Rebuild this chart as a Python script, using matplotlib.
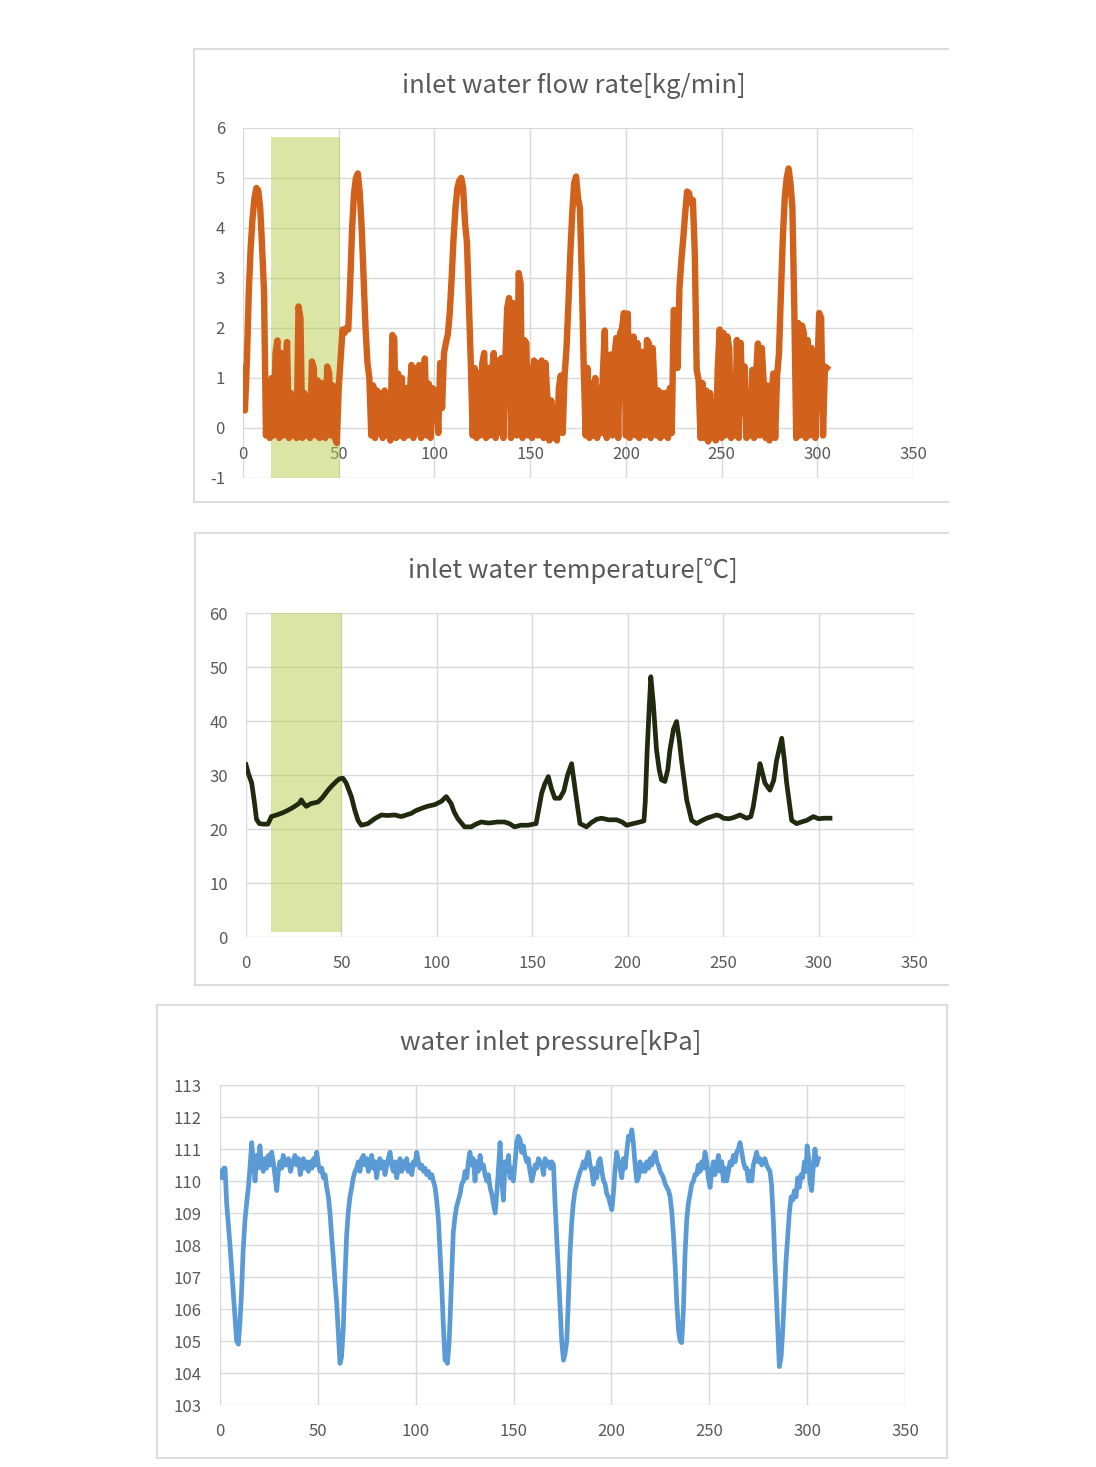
import matplotlib
matplotlib.use("Agg")
import matplotlib.pyplot as plt
from matplotlib.lines import Line2D

plt.rcParams['font.family'] = ['Noto Sans CJK KR', 'DejaVu Sans']
plt.rcParams['axes.unicode_minus'] = False

# ------------------------------------------------------------
# data
# ------------------------------------------------------------

# inlet water flow rate [kg/min], one value per unit of x (0..305)
flow_rate = [
    1.2, 0.35, 1.3, 2.7, 3.6, 4.2, 4.6, 4.8, 4.75, 4.4,
    3.6, 2.7, -0.15, 0.8, -0.2, 1.0, -0.15, 1.5, 1.75, -0.2,
    1.5, -0.15, 1.0, 1.72, -0.2, 0.7, -0.15, 0.6, -0.2, 2.43,
    2.2, -0.2, 0.7, -0.15, 0.6, -0.2, 1.33, 1.2, -0.15, 0.95,
    -0.2, 0.9, 0.3, -0.2, 1.23, 1.1, -0.15, 0.85, -0.2, -0.3,
    0.8, 1.4, 1.97, 1.9, 2.0, 1.97, 2.9, 4.0, 4.7, 5.0,
    5.09, 4.7, 4.0, 3.0, 2.0, 1.3, 1.0, -0.15, 0.85, -0.2,
    0.75, -0.1, 0.7, -0.2, 0.75, -0.15, 0.5, -0.25, 1.86, 1.8,
    -0.2, 1.09, -0.15, 1.0, -0.2, 0.8, -0.15, 0.6, 1.26, -0.2,
    1.2, -0.1, 1.26, -0.2, 0.9, 1.39, -0.15, 0.89, -0.2, 0.8,
    0.2, 0.75, -0.1, 1.3, 0.4, 1.5, 1.7, 1.87, 2.3, 3.0,
    3.8, 4.4, 4.8, 4.95, 5.0, 4.8, 4.1, 3.7, 2.5, 1.3,
    -0.15, 1.2, -0.2, 1.1, -0.15, 1.3, 1.5, -0.2, 1.2, -0.15,
    1.1, 1.5, -0.2, 1.35, -0.1, 1.4, -0.2, 1.3, 2.4, 2.6,
    -0.2, 2.5, 1.2, -0.15, 3.1, 2.9, -0.2, 1.76, 1.7, -0.15,
    1.2, -0.2, 1.35, 1.3, -0.15, 1.0, 1.35, -0.2, 1.3, 0.6,
    -0.25, 0.55, -0.2, 0.4, -0.25, 0.8, 1.05, -0.1, 1.05, 1.6,
    2.5, 3.5, 4.3, 4.9, 5.03, 4.6, 4.4, 3.0, 1.2, -0.15,
    1.2, -0.2, 0.9, -0.15, 1.0, -0.2, 0.8, -0.1, 1.1, 1.95,
    -0.2, 1.2, 1.47, -0.15, 1.4, 1.8, -0.2, 1.9, 2.0, 2.3,
    -0.15, 2.29, -0.2, 0.8, 1.83, -0.15, 1.7, -0.2, 1.53, 1.4,
    -0.15, 1.76, 1.7, -0.2, 1.6, 0.8, -0.15, 0.75, -0.2, 0.7,
    -0.15, 0.7, -0.2, 0.8, -0.1, 2.36, 2.3, 1.2, 2.8, 3.36,
    3.8, 4.3, 4.73, 4.7, 4.5, 4.56, 3.5, 1.16, 0.96, -0.2,
    0.9, -0.2, 0.75, -0.27, 0.7, -0.2, 0.5, -0.25, 1.2, 1.97,
    -0.2, 1.9, -0.15, 1.83, 1.6, -0.2, 0.8, -0.15, 1.76, -0.2,
    1.7, 0.3, 1.23, -0.2, 0.6, -0.15, 1.16, -0.2, 1.1, 1.69,
    -0.15, 1.6, 0.89, -0.2, 0.85, -0.25, 0.6, 1.09, -0.2, 1.05,
    1.5, 2.69, 3.8, 4.6, 5.0, 5.19, 4.9, 4.4, 2.36, -0.2,
    2.1, -0.15, 2.05, 1.9, -0.2, 1.76, -0.15, 1.6, 1.23, -0.2,
    1.1, 2.3, 2.2, -0.15, 1.23, 1.2,
]
flow_x = list(range(len(flow_rate)))

# inlet water temperature [C]
temp_x = [
    0, 1.5, 3, 4.5, 5.5, 7, 9, 11.5, 13.3, 16, 18.5, 21, 23.7, 26, 28, 29, 30,
    31.6, 34, 37.7, 40, 43, 45, 47.3, 49, 50.8, 52.5, 55.2, 57, 58.7, 60.4,
    63.9, 67.4, 70.9, 74, 77.9, 81.4, 84, 86.6, 89, 91.8, 95, 98.8, 102.3,
    104.9, 107.5, 109, 111, 114.5, 118, 120.5, 123.2, 127, 131.9, 135.4, 138,
    140.7, 144, 147.7, 152, 154.9, 156.5, 158.4, 160, 161.8, 164.4, 166.5,
    168.5, 170.6, 172, 173.2, 175, 178.4, 181, 183.7, 186.3, 190, 194.2, 197,
    199.4, 203, 206.4, 208.5, 209.2, 210.2, 211.2, 212.1, 213.4, 215.1, 216.5,
    217.7, 219.5, 221, 222.1, 224, 225.6, 227, 228.2, 230.9, 233.5, 236.1,
    238.5, 241.4, 244, 246.6, 248.5, 250.1, 253, 255.3, 258.8, 262.3, 264.5,
    265.8, 267.5, 269.3, 270.5, 271.9, 274.5, 276.5, 278, 280.7, 282, 283.3,
    285.9, 288.5, 291, 293.8, 297.3, 300, 303, 306,
]
temperature = [
    31.9, 30.0, 28.5, 24.7, 21.8, 21.0, 20.9, 20.9, 22.3, 22.6, 22.9, 23.3,
    23.8, 24.3, 24.8, 25.4, 24.8, 24.2, 24.7, 25.0, 25.8, 27.2, 28.0, 28.8,
    29.3, 29.4, 28.5, 26.0, 23.5, 21.6, 20.7, 21.0, 21.9, 22.6, 22.5, 22.6,
    22.3, 22.6, 22.9, 23.4, 23.8, 24.2, 24.5, 25.1, 26.0, 24.7, 23.2, 21.9,
    20.4, 20.4, 20.9, 21.3, 21.1, 21.3, 21.3, 21.0, 20.4, 20.7, 20.7, 21.0,
    26.6, 28.3, 29.7, 27.5, 25.7, 25.7, 27.0, 30.0, 32.1, 28.5, 25.4, 21.0,
    20.4, 21.2, 21.8, 22.0, 21.7, 21.7, 21.3, 20.7, 21.0, 21.3, 21.5, 25.0,
    34.6, 42.0, 48.2, 43.3, 34.6, 31.0, 29.1, 28.8, 31.0, 34.6, 38.5, 39.9,
    36.5, 32.7, 25.4, 21.6, 21.0, 21.5, 22.0, 22.3, 22.6, 22.4, 22.0, 21.9,
    22.1, 22.6, 22.0, 22.3, 24.2, 28.0, 32.1, 30.5, 28.5, 27.2, 29.0, 32.7,
    36.8, 33.0, 28.5, 21.6, 21.0, 21.3, 21.6, 22.3, 21.9, 22.0, 22.0,
]

# water inlet pressure [kPa]
pres_x = [
    0, 1, 2, 2.6, 3.4, 4.2, 5.1, 6, 6.8, 7.6, 8.5, 9.4, 10.2, 11, 11.8, 12.8,
    13.6, 14.5, 15.3, 16.2, 17, 17.9, 18.7, 19.5, 20.4, 21.2, 22.1, 23, 23.8,
    24.7, 25.5, 26.4, 27.2, 28, 29, 29.8, 30.6, 31.5, 32.3, 33.1, 34, 35, 36,
    37.2, 38.3, 39.2, 40.1, 41, 41.7, 42.6, 43.5, 44.3, 45.2, 46, 47, 47.8,
    48.6, 49.4, 50.3, 51.2, 52, 52.8, 53.7, 54.5, 55.4, 56.2, 57, 57.9, 58.7,
    59.6, 60.4, 61.3, 62.1, 63, 63.8, 64.7, 65.5, 66.4, 67.3, 68.1, 69, 69.8,
    70.7, 71.5, 72.4, 73.3, 74.1, 75, 75.8, 76.6, 77.5, 78.3, 79.2, 80, 80.9,
    81.7, 82.6, 83.5, 84.3, 85.2, 86, 86.9, 87.7, 88.6, 89.4, 90.3, 91.1, 92,
    92.8, 93.7, 94.5, 95.4, 96.2, 97.1, 98, 98.8, 99.7, 100.5, 101.4, 102.2,
    103.1, 104, 104.8, 105.6, 106.5, 107.3, 108.2, 109, 109.9, 110.7, 111.6,
    112.4, 113.3, 114.1, 115, 115.8, 116.2, 117, 117.5, 118.4, 119.2, 120.1,
    120.9, 121.8, 122.7, 123.5, 124.4, 125.2, 126.1, 126.9, 127.7, 128.6,
    129.4, 130.3, 131.1, 132, 132.9, 133.7, 134.6, 135.4, 136.3, 137.1, 138,
    138.8, 139.7, 140.6, 141.4, 142.2, 143.1, 144, 144.8, 145.7, 146.5, 147.4,
    148.2, 149, 149.9, 150.8, 151.6, 152.4, 153.3, 154.1, 155, 155.8, 156.7,
    157.5, 158.4, 159.3, 160.1, 161, 161.8, 162.7, 163.6, 164.4, 165.3, 166.1,
    167, 167.8, 168.7, 169.5, 170.4, 171.2, 172, 172.9, 173.8, 174.6, 175.5,
    176.3, 177.2, 178, 178.8, 179.7, 180.5, 181.4, 182.2, 183.1, 184, 184.8,
    185.7, 186.5, 187.4, 188.2, 189.1, 190, 190.8, 191.7, 192.5, 193.4, 194.2,
    195.1, 196, 196.8, 197.6, 198.5, 199.3, 200.2, 201, 201.9, 202.7, 203.6,
    204.4, 205.3, 206.1, 207, 207.8, 208.7, 209.5, 210.4, 211.2, 212.1, 213,
    213.8, 214.6, 215.5, 216.4, 217.2, 218.1, 219, 219.8, 220.6, 221.5, 222.4,
    223.2, 224, 224.9, 225.8, 226.6, 227.5, 228.3, 229.2, 230, 230.9, 231.7,
    232.6, 233.4, 234.3, 235.1, 235.9, 236.8, 237.6, 238.5, 239.3, 240.2, 241,
    241.9, 242.7, 243.6, 244.4, 245.3, 246.1, 247, 247.8, 248.7, 249.5, 250.4,
    251.2, 252.1, 252.9, 253.8, 254.7, 255.5, 256.4, 257.2, 258, 258.9, 259.8,
    260.6, 261.5, 262.3, 263.2, 264, 264.9, 265.7, 266.6, 267.4, 268.3, 269.1,
    270, 270.8, 271.7, 272.5, 273.4, 274.2, 275.1, 275.9, 276.8, 277.6, 278.4,
    279.3, 280.1, 281, 281.8, 282.7, 283.5, 284.4, 285.2, 285.8, 286.7, 287.5,
    288.4, 289.2, 290.1, 290.9, 291.8, 292.6, 293.5, 294.3, 295.2, 296, 296.9,
    297.7, 298.6, 299.4, 300, 300.8, 301.4, 302.3, 303.1, 304, 304.8, 305.7,
]
pressure = [
    110.3, 110.1, 110.4, 110.4, 109.3, 108.7, 108.0, 107.2, 106.5, 105.8,
    105.0, 104.9, 105.6, 106.5, 107.8, 108.8, 109.3, 109.8, 110.4, 111.2,
    110.6, 110.0, 110.8, 110.4, 111.1, 110.5, 110.3, 110.7, 110.4, 110.8,
    110.5, 110.9, 110.6, 110.2, 109.7, 110.3, 110.6, 110.4, 110.8, 110.5,
    110.5, 110.7, 110.3, 110.6, 110.8, 110.5, 110.7, 110.2, 110.4, 110.7,
    110.4, 110.6, 110.3, 110.6, 110.4, 110.7, 110.5, 110.9, 110.5, 110.3,
    110.4, 110.1, 110.2, 109.8, 109.5, 109.0, 108.3, 107.6, 106.9, 106.2,
    105.3, 104.3, 104.5, 105.4, 106.9, 108.3, 109.0, 109.5, 109.8, 110.1,
    110.3, 110.4, 110.6, 110.3, 110.7, 110.8, 110.5, 110.7, 110.3, 110.5,
    110.8, 110.4, 110.6, 110.1, 110.5, 110.7, 110.4, 110.6, 110.2, 110.5,
    110.7, 110.9, 110.5, 110.3, 110.6, 110.1, 110.4, 110.7, 110.3, 110.6,
    110.4, 110.7, 110.3, 110.5, 110.2, 110.6, 110.5, 110.9, 110.6, 110.4,
    110.5, 110.3, 110.4, 110.2, 110.3, 110.1, 110.2, 110.0, 109.8, 109.4,
    108.8, 107.8, 106.7, 105.5, 104.4, 104.5, 104.3, 104.9, 105.6, 107.1,
    108.4, 108.9, 109.2, 109.4, 109.6, 109.9, 110.0, 110.3, 110.1, 110.6,
    110.9, 110.5, 110.7, 110.0, 110.6, 110.3, 110.8, 110.4, 110.5, 110.2,
    110.0, 110.2, 109.8, 109.6, 109.3, 109.0, 109.6, 110.3, 111.2, 110.0,
    109.4, 110.6, 110.3, 110.8, 110.1, 110.4, 110.0, 110.6, 111.2, 111.4,
    111.3, 110.9, 111.1, 110.8, 110.6, 110.7, 110.3, 110.0, 110.2, 110.5,
    110.4, 110.7, 110.6, 110.5, 110.2, 110.7, 110.5, 110.6, 110.4, 110.6,
    110.5, 109.3, 108.3, 107.2, 106.0, 105.0, 104.4, 104.6, 105.0, 106.3,
    107.7, 108.7, 109.3, 109.7, 109.9, 110.1, 110.3, 110.4, 110.6, 110.4,
    110.7, 110.9, 110.5, 110.3, 109.9, 110.4, 110.1, 110.6, 110.7, 110.3,
    110.0, 109.9, 109.6, 109.5, 109.3, 109.1, 109.6, 110.4, 110.9, 110.6,
    110.4, 110.1, 110.7, 110.4, 110.9, 111.4, 111.3, 111.6, 111.2, 110.5,
    110.0, 110.1, 110.6, 110.3, 110.5, 110.3, 110.6, 110.4, 110.7, 110.5,
    110.8, 110.9, 110.6, 110.5, 110.3, 110.2, 110.1, 109.9, 109.8, 109.7,
    109.5, 109.0, 108.3, 107.3, 106.2, 105.3, 105.0, 104.95, 106.0, 107.7,
    108.8, 109.3, 109.6, 109.9, 110.0, 110.2, 110.2, 110.5, 110.3, 110.6,
    110.4, 110.9, 110.6, 110.1, 109.8, 110.3, 110.6, 110.2, 110.5, 110.8,
    110.3, 110.6, 110.0, 110.4, 110.0, 110.3, 110.6, 110.5, 110.8, 110.6,
    110.9, 111.0, 111.2, 110.9, 110.6, 110.4, 110.4, 110.0, 110.3, 110.0,
    110.5, 110.7, 110.9, 110.6, 110.7, 110.5, 110.6, 110.7, 110.5, 110.4,
    110.3, 109.9, 108.8, 107.5, 106.2, 105.0, 104.2, 104.5, 105.3, 106.5,
    107.5, 108.3, 109.0, 109.5, 109.4, 109.7, 109.5, 110.1, 109.8, 110.2,
    110.1, 110.6, 110.3, 111.1, 110.7, 110.0, 109.7, 110.4, 111.0, 110.5,
    110.7,
]

# highlighted time window (x range, y range)
flow_band = (14.6, 50.6, -1.0, 5.82)
temp_band = (13.1, 50.3, 0.9, 60.0)

# ------------------------------------------------------------
# figure
# ------------------------------------------------------------

W, H = 1096, 1467
fig = plt.figure(figsize=(W / 100, H / 100), dpi=100)

TXT = '#595959'
GRID = '#d9d9d9'


def add_axes_px(x0, x1, ytop, ybot):
    # place an axes from pixel corners of the plot area
    return fig.add_axes([x0 / W, 1 - ybot / H, (x1 - x0) / W, (ybot - ytop) / H])


def frame_px(x0, x1, ytop, ybot, right=False):
    segs = [((x0, x1), (ytop, ytop)), ((x0, x0), (ytop, ybot)),
            ((x0, x1), (ybot, ybot))]
    if right:
        segs.append(((x1, x1), (ytop, ybot)))
    for xs, ys in segs:
        fig.add_artist(Line2D([x / W for x in xs], [1 - y / H for y in ys],
                              color=GRID, lw=1.3))


def style(ax, xlim, ylim, yticks, xaxis_at):
    ax.set_xlim(*xlim)
    ax.set_ylim(*ylim)
    ax.set_xticks(range(0, 351, 50))
    ax.set_yticks(yticks)
    ax.grid(True, color=GRID, lw=1.0)
    ax.set_axisbelow(True)
    for s in ax.spines.values():
        s.set_visible(False)
    ax.spines['bottom'].set_position(('data', xaxis_at))
    ax.tick_params(length=0, colors=TXT, labelsize=12)
    ax.tick_params(axis='x', pad=13)
    ax.tick_params(axis='y', pad=13)


# ---- panel 1 : flow rate ----
frame_px(194, 948, 49, 502)
fig.text(574 / W, 1 - 86 / H, 'inlet water flow rate[kg/min]',
         ha='center', va='center', fontsize=18.5, color=TXT)
ax1 = add_axes_px(243, 913, 128, 478)
style(ax1, (0, 350), (-1, 6), range(-1, 7), 0)
ax1.plot(flow_x, flow_rate, color='#d2611c', lw=4.6, solid_joinstyle='round')
ax1.fill_between([flow_band[0], flow_band[1]], flow_band[2], flow_band[3],
                 color='#b9cc4e', alpha=0.5, lw=0)

# ---- panel 2 : temperature ----
frame_px(195, 948, 533, 985)
fig.text(573 / W, 1 - 571 / H, 'inlet water temperature[℃]',
         ha='center', va='center', fontsize=18.5, color=TXT)
ax2 = add_axes_px(246, 914, 613, 937)
style(ax2, (0, 350), (0, 60), range(0, 61, 10), 0)
ax2.plot(temp_x, temperature, color='#1f2a0f', lw=3.4, solid_joinstyle='round')
ax2.fill_between([temp_band[0], temp_band[1]], temp_band[2], temp_band[3],
                 color='#b9cc4e', alpha=0.5, lw=0)

# ---- panel 3 : pressure ----
frame_px(157, 947, 1005, 1458, right=True)
fig.text(551 / W, 1 - 1043 / H, 'water inlet pressure[kPa]',
         ha='center', va='center', fontsize=18.5, color=TXT)
ax3 = add_axes_px(220, 905, 1085, 1405)
style(ax3, (0, 350), (103, 113), range(103, 114), 103)
ax3.plot(pres_x, pressure, color='#5b9bd5', lw=3.4, solid_joinstyle='round')

fig.savefig('out.png', dpi=100, facecolor='white')
